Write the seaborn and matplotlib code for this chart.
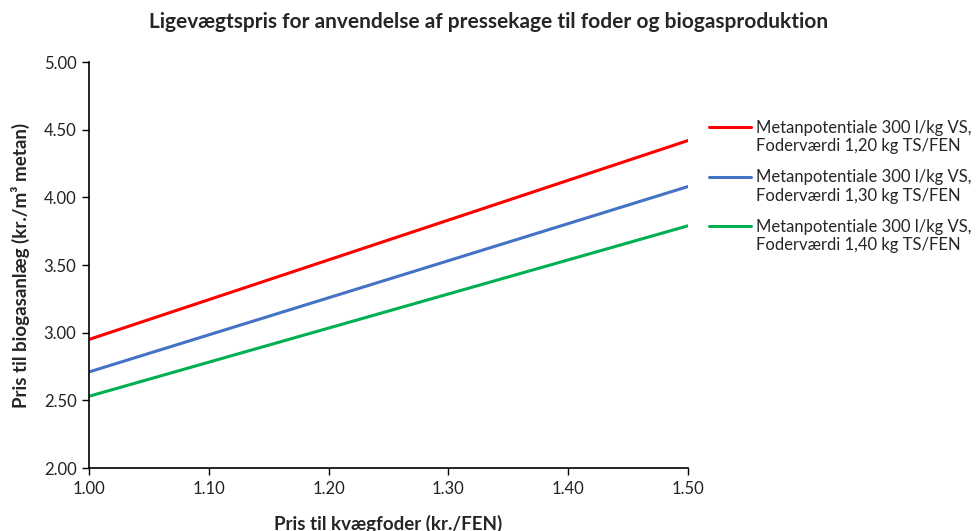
import matplotlib
matplotlib.use("Agg")
import matplotlib.pyplot as plt
from matplotlib.legend_handler import HandlerLine2D
import seaborn as sns
import pandas as pd

# Price of cattle feed (kr./FEN) at the ends of the range
feed_price = [1.00, 1.50]

# Equilibrium price to the biogas plant (kr./m3 methane) for each feed value
price_120 = [2.95, 4.42]
price_130 = [2.71, 4.08]
price_140 = [2.53, 3.79]

series_labels = [
    "Metanpotentiale 300 l/kg VS,\nFoderværdi 1,20 kg TS/FEN",
    "Metanpotentiale 300 l/kg VS,\nFoderværdi 1,30 kg TS/FEN",
    "Metanpotentiale 300 l/kg VS,\nFoderværdi 1,40 kg TS/FEN",
]
series_colors = ["#ff0000", "#4472c4", "#00b050"]

x_ticks = [1.00, 1.10, 1.20, 1.30, 1.40, 1.50]
y_ticks = [2.00, 2.50, 3.00, 3.50, 4.00, 4.50, 5.00]

frames = []
for label, values in zip(series_labels, [price_120, price_130, price_140]):
    frames.append(pd.DataFrame({"feed": feed_price, "price": values, "serie": label}))
df = pd.concat(frames, ignore_index=True)


class FirstLineHandler(HandlerLine2D):
    """Legend line placed level with the first line of a two-line label."""

    def __init__(self, shift, **kw):
        super().__init__(**kw)
        self.shift = shift

    def create_artists(self, legend, orig_handle, xdescent, ydescent, width,
                       height, fontsize, trans):
        artists = super().create_artists(legend, orig_handle, xdescent, ydescent,
                                         width, height, fontsize, trans)
        for a in artists:
            a.set_ydata([y + self.shift * fontsize for y in a.get_ydata()])
        return artists


sns.set_theme(style="white")
plt.rcParams["font.family"] = ["Lato", "DejaVu Sans"]

fig = plt.figure(figsize=(9.78, 5.31), dpi=100)
ax = fig.add_axes([0.091, 0.1186, 0.6125, 0.7646])

sns.lineplot(data=df, x="feed", y="price", hue="serie", palette=series_colors,
             linewidth=2.2, ax=ax, legend=True)

ax.set_xlim(1.00, 1.50)
ax.set_ylim(2.00, 5.00)
ax.set_xticks(x_ticks)
ax.set_yticks(y_ticks)
ax.set_xticklabels([f"{v:.2f}" for v in x_ticks], fontsize=12, color="#222222")
ax.set_yticklabels([f"{v:.2f}" for v in y_ticks], fontsize=12, color="#222222")
ax.tick_params(axis="both", direction="out", length=5, width=1, color="black",
               bottom=True, left=True, pad=4)

for side in ["top", "right"]:
    ax.spines[side].set_visible(False)
for side in ["left", "bottom"]:
    ax.spines[side].set_color("black")
    ax.spines[side].set_linewidth(1.2)

ax.set_xlabel("Pris til kvægfoder (kr./FEN)", fontsize=13.5, fontweight="bold", labelpad=13)
ax.set_ylabel("Pris til biogasanlæg (kr./m³ metan)", fontsize=13.5, fontweight="bold", labelpad=10)

fig.suptitle("Ligevægtspris for anvendelse af pressekage til foder og biogasproduktion",
             x=0.5, y=0.978, fontsize=15, fontweight="bold")

handles, labels = ax.get_legend_handles_labels()
ax.legend_.remove()
fig.legend(handles, labels, loc="upper left", bbox_to_anchor=(0.71, 0.803),
           frameon=False, fontsize=12, handlelength=2.5, handletextpad=0.3,
           labelspacing=0.9,
           handler_map={h: FirstLineHandler(0.62) for h in handles})

fig.savefig("out.png", dpi=100)
